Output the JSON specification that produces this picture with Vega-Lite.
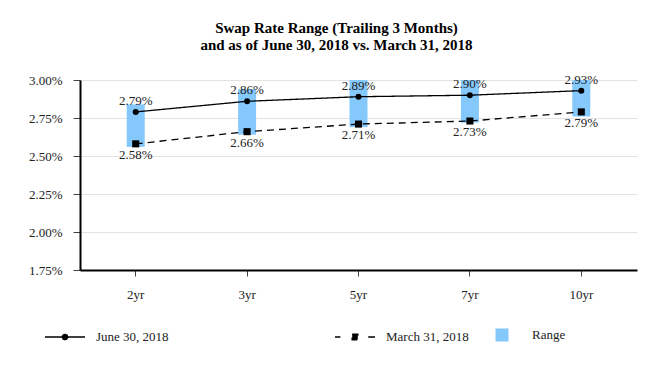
{
  "$schema": "https://vega.github.io/schema/vega-lite/v6.json",
  "width": 557,
  "height": 190,
  "autosize": {"type": "none"},
  "padding": {"left": 80, "top": 80, "right": 35, "bottom": 103},
  "background": "white",
  "title": {
    "text": ["Swap Rate Range (Trailing 3 Months)", "and as of June 30, 2018 vs. March 31, 2018"],
    "font": "Liberation Serif",
    "fontSize": 15,
    "fontWeight": "bold",
    "lineHeight": 17,
    "color": "black",
    "anchor": "middle",
    "frame": "group",
    "dx": -22,
    "offset": 21
  },
  "datasets": {
    "rates": [
      {"tenor": "2yr", "series": "June 30, 2018", "rate": 0.0279},
      {"tenor": "3yr", "series": "June 30, 2018", "rate": 0.0286},
      {"tenor": "5yr", "series": "June 30, 2018", "rate": 0.0289},
      {"tenor": "7yr", "series": "June 30, 2018", "rate": 0.0290},
      {"tenor": "10yr", "series": "June 30, 2018", "rate": 0.0293},
      {"tenor": "2yr", "series": "March 31, 2018", "rate": 0.0258},
      {"tenor": "3yr", "series": "March 31, 2018", "rate": 0.0266},
      {"tenor": "5yr", "series": "March 31, 2018", "rate": 0.0271},
      {"tenor": "7yr", "series": "March 31, 2018", "rate": 0.0273},
      {"tenor": "10yr", "series": "March 31, 2018", "rate": 0.0279}
    ],
    "range": [
      {"tenor": "2yr", "low": 0.0256, "high": 0.0284, "label": "Range"},
      {"tenor": "3yr", "low": 0.0264, "high": 0.0294, "label": "Range"},
      {"tenor": "5yr", "low": 0.0269, "high": 0.0300, "label": "Range"},
      {"tenor": "7yr", "low": 0.0272, "high": 0.0300, "label": "Range"},
      {"tenor": "10yr", "low": 0.0276, "high": 0.0300, "label": "Range"}
    ]
  },
  "encoding": {
    "x": {
      "field": "tenor",
      "type": "nominal",
      "sort": ["2yr", "3yr", "5yr", "7yr", "10yr"],
      "scale": {"paddingInner": 0, "paddingOuter": 0},
      "axis": {
        "title": null,
        "labelAngle": 0,
        "labelFont": "Liberation Serif",
        "labelFontSize": 13,
        "labelColor": "#222",
        "labelPadding": 12,
        "tickSize": 6,
        "tickColor": "#444",
        "domainColor": "black",
        "domainWidth": 2,
        "grid": false
      }
    }
  },
  "layer": [
    {
      "data": {"name": "range"},
      "mark": {"type": "bar", "width": 18},
      "encoding": {
        "y": {
          "field": "low",
          "type": "quantitative",
          "scale": {"domain": [0.0175, 0.03], "nice": false, "zero": false},
          "axis": {
            "title": null,
            "format": ".2%",
            "values": [0.0175, 0.02, 0.0225, 0.025, 0.0275, 0.03],
            "tickCount": 10,
            "labelOverlap": false,
            "labelFont": "Liberation Serif",
            "labelFontSize": 13,
            "labelColor": "#222",
            "labelPadding": 11,
            "tickSize": 7,
            "tickColor": "#444",
            "domainColor": "black",
            "domainWidth": 2,
            "gridColor": "#e3e3e3",
            "gridWidth": 1.2
          }
        },
        "y2": {"field": "high"},
        "fill": {
          "field": "label",
          "type": "nominal",
          "scale": {"range": ["#85C8FC"]},
          "legend": {
            "orient": "none",
            "legendX": 415,
            "legendY": 248,
            "title": null,
            "symbolType": "square",
            "symbolSize": 170,
            "symbolStrokeWidth": 0,
            "labelOffset": 23,
            "labelFont": "Liberation Serif",
            "labelFontSize": 13,
            "labelColor": "#222"
          }
        }
      }
    },
    {
      "data": {"name": "rates"},
      "mark": {"type": "line", "color": "black", "strokeWidth": 1.3},
      "encoding": {
        "y": {"field": "rate", "type": "quantitative"},
        "strokeDash": {
          "field": "series",
          "type": "nominal",
          "scale": {"domain": ["June 30, 2018", "March 31, 2018"], "range": [[1, 0], [7, 5]]},
          "legend": {
            "orient": "none",
            "legendX": -36,
            "legendY": 236,
            "direction": "horizontal",
            "title": null,
            "symbolSize": 1600,
            "symbolStrokeColor": "black",
            "symbolFillColor": "black",
            "symbolStrokeWidth": 1.5,
            "columnPadding": 163,
            "labelOffset": 10,
            "labelFont": "Liberation Serif",
            "labelFontSize": 13,
            "labelColor": "#222",
            "encode": {
              "symbols": {
                "update": {
                  "shape": {"signal": "datum.value === 'June 30, 2018' ? 'M-1,0H1M-0.13,0A0.13,0.13 0 1,0 0.13,0A0.13,0.13 0 1,0 -0.13,0Z' : 'M-1,0H-0.73M0.66,0H1M-0.14,-0.14H0.14V0.14H-0.14Z'"},
                  "strokeDash": {"value": []},
                  "size": {"value": 1600},
                  "strokeWidth": {"value": 1.5},
                  "fill": {"value": "black"},
                  "stroke": {"value": "black"},
                  "opacity": {"value": 1},
                  "strokeOpacity": {"value": 1}
                }
              }
            }
          }
        }
      }
    },
    {
      "data": {"name": "rates"},
      "transform": [{"filter": {"field": "series", "equal": "June 30, 2018"}}],
      "mark": {"type": "point", "shape": "circle", "size": 36, "filled": true, "color": "black", "opacity": 1},
      "encoding": {
        "y": {"field": "rate", "type": "quantitative"}
      }
    },
    {
      "data": {"name": "rates"},
      "transform": [{"filter": {"field": "series", "equal": "March 31, 2018"}}],
      "mark": {"type": "point", "shape": "square", "size": 50, "filled": true, "color": "black", "opacity": 1},
      "encoding": {
        "y": {"field": "rate", "type": "quantitative"}
      }
    },
    {
      "data": {"name": "rates"},
      "transform": [{"filter": {"field": "series", "equal": "June 30, 2018"}}],
      "mark": {"type": "text", "font": "Liberation Serif", "fontSize": 13, "color": "#222", "dy": -11, "baseline": "middle"},
      "encoding": {
        "y": {"field": "rate", "type": "quantitative"},
        "text": {"field": "rate", "type": "quantitative", "format": ".2%"}
      }
    },
    {
      "data": {"name": "rates"},
      "transform": [{"filter": {"field": "series", "equal": "March 31, 2018"}}],
      "mark": {"type": "text", "font": "Liberation Serif", "fontSize": 13, "color": "#222", "dy": 11, "baseline": "middle"},
      "encoding": {
        "y": {"field": "rate", "type": "quantitative"},
        "text": {"field": "rate", "type": "quantitative", "format": ".2%"}
      }
    }
  ],
  "config": {
    "view": {"stroke": null},
    "axis": {"labelFont": "Liberation Serif"}
  }
}
